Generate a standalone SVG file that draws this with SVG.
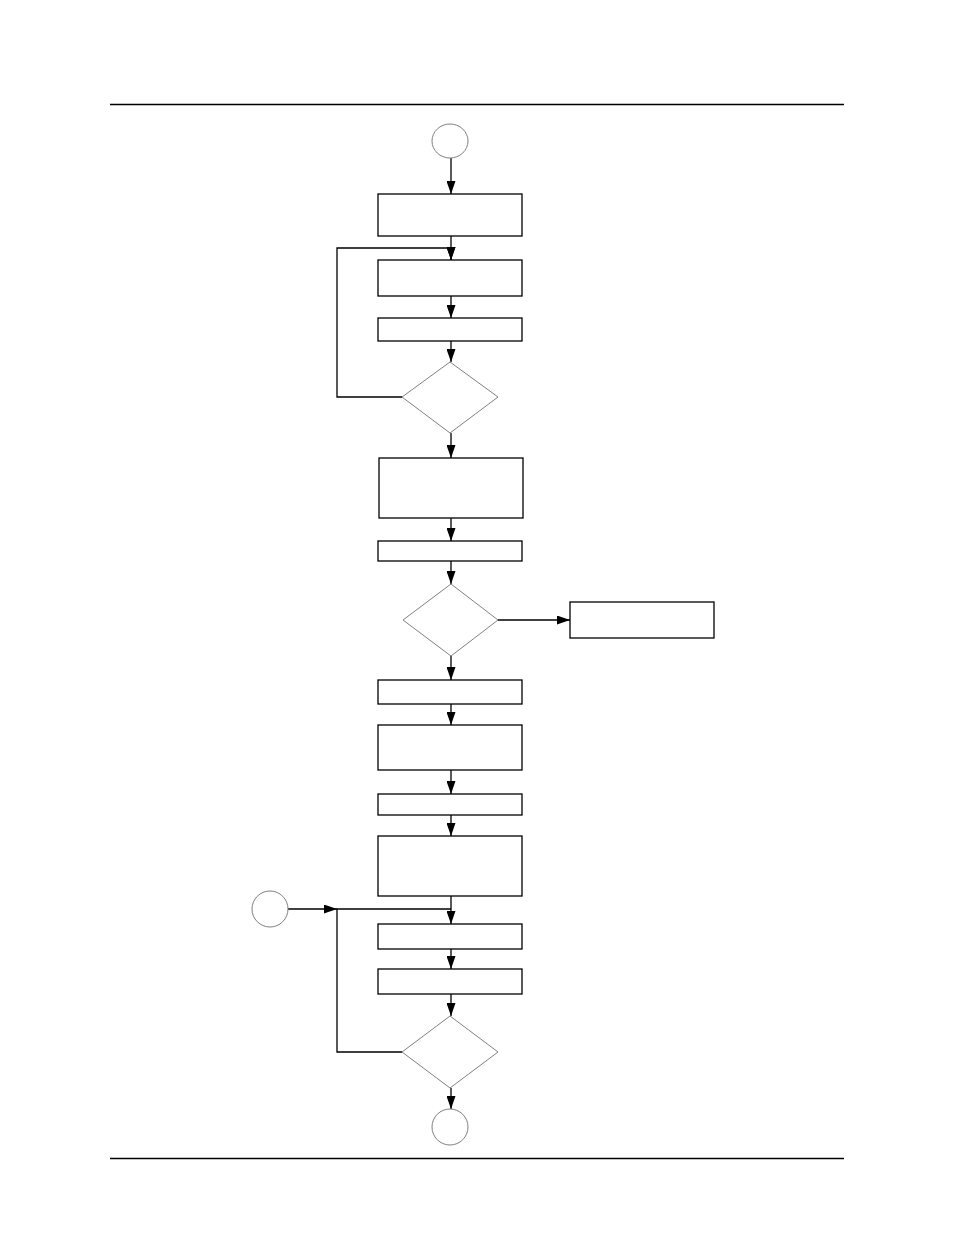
<svg xmlns="http://www.w3.org/2000/svg" width="954" height="1235" viewBox="0 0 954 1235">
<style>
.box{fill:#fff;stroke:#000;stroke-width:1.3}
.dec{fill:#fff;stroke:#808080;stroke-width:1}
.term{fill:#fff;stroke:#808080;stroke-width:1}
.rule{stroke:#000;stroke-width:1.3;fill:none}
.edge{stroke:#000;stroke-width:1.3;fill:none}
.arr{stroke:#000;stroke-width:1.3;fill:none;marker-end:url(#ah)}
</style>
<defs>
<marker id="ah" markerWidth="13" markerHeight="9" refX="13" refY="4.5" viewBox="0 0 13 9" orient="auto" markerUnits="userSpaceOnUse">
<path d="M0,0 L13,4.5 L0,9 Z" fill="#000"/>
</marker>
</defs>
<rect width="954" height="1235" fill="#fff"/>
<g id="page-rules">
<line class="rule" x1="110" y1="104.5" x2="844" y2="104.5"/>
<line class="rule" x1="110" y1="1158.5" x2="844" y2="1158.5"/>
</g>
<g id="connectors">
<line class="arr" x1="451" y1="158" x2="451" y2="194"/>
<line class="arr" x1="451" y1="236" x2="451" y2="260"/>
<polyline class="arr" points="402,397 337,397 337,248 451,248 451,260"/>
<line class="arr" x1="451" y1="296" x2="451" y2="318"/>
<line class="arr" x1="451" y1="341" x2="451" y2="362"/>
<line class="arr" x1="451" y1="433" x2="451" y2="458"/>
<line class="arr" x1="451" y1="518" x2="451" y2="541"/>
<line class="arr" x1="451" y1="561" x2="451" y2="584"/>
<line class="arr" x1="498" y1="620" x2="570" y2="620"/>
<line class="arr" x1="451" y1="656" x2="451" y2="680"/>
<line class="arr" x1="451" y1="704" x2="451" y2="725"/>
<line class="arr" x1="451" y1="770" x2="451" y2="794"/>
<line class="arr" x1="451" y1="815" x2="451" y2="836"/>
<line class="arr" x1="451" y1="896" x2="451" y2="924"/>
<line class="arr" x1="288" y1="909" x2="337" y2="909"/>
<polyline class="edge" points="402,1052 337,1052 337,909 451,909"/>
<line class="arr" x1="451" y1="949" x2="451" y2="969"/>
<line class="arr" x1="451" y1="994" x2="451" y2="1016"/>
<line class="arr" x1="451" y1="1088" x2="451" y2="1109"/>
</g>
<g id="start"><ellipse class="term" cx="450" cy="141" rx="18" ry="17"/></g>
<g id="box1"><rect class="box" x="378" y="194" width="144" height="42"/></g>
<g id="box2"><rect class="box" x="378" y="260" width="144" height="36"/></g>
<g id="box3"><rect class="box" x="378" y="318" width="144" height="23"/></g>
<g id="dec1"><polygon class="dec" points="450,362 498,397 450,433 402,397"/></g>
<g id="box4"><rect class="box" x="379" y="458" width="144" height="60"/></g>
<g id="box5"><rect class="box" x="378" y="541" width="144" height="20"/></g>
<g id="dec2"><polygon class="dec" points="451,584 498,620 451,656 403,620"/></g>
<g id="box-side"><rect class="box" x="570" y="602" width="144" height="36"/></g>
<g id="box6"><rect class="box" x="378" y="680" width="144" height="24"/></g>
<g id="box7"><rect class="box" x="378" y="725" width="144" height="45"/></g>
<g id="box8"><rect class="box" x="378" y="794" width="144" height="21"/></g>
<g id="box9"><rect class="box" x="378" y="836" width="144" height="60"/></g>
<g id="entry"><circle class="term" cx="270" cy="909" r="18"/></g>
<g id="box10"><rect class="box" x="378" y="924" width="144" height="25"/></g>
<g id="box11"><rect class="box" x="378" y="969" width="144" height="25"/></g>
<g id="dec3"><polygon class="dec" points="450,1016 498,1052 450,1088 402,1052"/></g>
<g id="end"><circle class="term" cx="450" cy="1127" r="18"/></g>
</svg>
